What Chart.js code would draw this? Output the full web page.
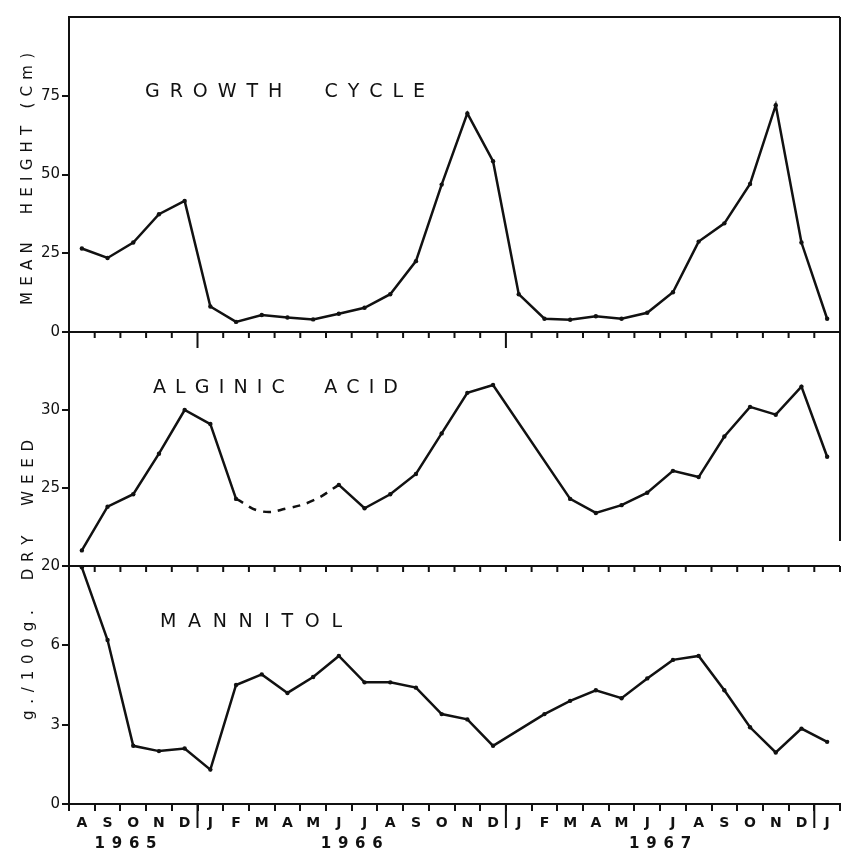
<!DOCTYPE html>
<html>
<head>
<meta charset="utf-8">
<script src="https://cdn.jsdelivr.net/npm/chart.js@4/dist/chart.umd.min.js"></script>
<style>
  html, body { margin: 0; padding: 0; background: #fff; }
  #chart { display: block; }
</style>
</head>
<body>
<canvas id="chart" width="844" height="852"></canvas>
<script>
// Aug 1965 .. Jan 1968, one entry per monthly sample
const months = ['A', 'S', 'O', 'N', 'D',
    'J', 'F', 'M', 'A', 'M', 'J', 'J', 'A', 'S', 'O', 'N', 'D',
    'J', 'F', 'M', 'A', 'M', 'J', 'J', 'A', 'S', 'O', 'N', 'D',
    'J'];
const years = ['1965', '1966', '1967'];
const yearMid = [1.7, 10.5, 22.5];

// mean height (cm)
const growth = [26.5, 23.5, 28.4, 37.4, 41.6,
    8.1, 3.2, 5.4, 4.6, 4.0, 5.8, 7.7, 12.0, 22.5, 46.8, 69.4, 54.2,
    12.0, 4.2, 3.9, 5.0, 4.2, 6.1, 12.6, 28.7, 34.5, 47.0, 72.0, 28.4,
    4.2];

// g./100g. dry weed
const alginic = [21.0, 23.8, 24.6, 27.2, 30.0,
    29.1, 24.3, null, null, null, 25.2, 23.7, 24.6, 25.9, 28.5, 31.1, 31.6,
    null, null, 24.3, 23.4, 23.9, 24.7, 26.1, 25.7, 28.3, 30.2, 29.7, 31.5,
    27.0];
// dashed bridge drawn across the missing spring 1966 samples
const alginicGap = [null, null, null, null, null,
    null, 24.3, 23.5, 23.7, 24.2, 25.2, null, null, null, null, null, null,
    null, null, null, null, null, null, null, null, null, null, null, null,
    null];

const mannitol = [8.95, 6.2, 2.2, 2.0, 2.1,
    1.3, 4.5, 4.9, 4.2, 4.8, 5.6, 4.6, 4.6, 4.4, 3.4, 3.2, 2.2,
    null, 3.4, 3.9, 4.3, 4.0, 4.75, 5.45, 5.6, 4.3, 2.9, 1.95, 2.85,
    2.35];

const growthTicks = [0, 25, 50, 75];
const alginicTicks = [20, 25, 30];
const mannitolTicks = [0, 3, 6];

const ink = '#111';
const face = "'DejaVu Sans', sans-serif";

// draw a string letter by letter so it fills a given span
function spaced(ctx, text, x0, y, span) {
    const chars = [...text];
    const widths = chars.map(c => ctx.measureText(c).width);
    const total = widths.reduce((s, w) => s + w, 0);
    const gap = (span - total) / (chars.length - 1);
    let x = x0;
    chars.forEach((c, i) => {
        ctx.fillText(c, x, y);
        x += widths[i] + gap;
    });
}

const panelDecor = {
    id: 'panelDecor',
    afterDraw(chart) {
        const { ctx, chartArea: a, scales } = chart;
        const x = scales.x, yG = scales.yG, yA = scales.yA;
        ctx.save();
        ctx.strokeStyle = ink;
        ctx.fillStyle = ink;
        ctx.lineWidth = 2;

        // frame: top edge, panel dividers, right side of the upper two panels
        ctx.beginPath();
        ctx.moveTo(a.left, a.top); ctx.lineTo(a.right, a.top);
        ctx.moveTo(a.left, yG.bottom); ctx.lineTo(a.right, yG.bottom);
        ctx.moveTo(a.left, yA.bottom); ctx.lineTo(a.right, yA.bottom);
        ctx.moveTo(a.right, a.top); ctx.lineTo(a.right, yA.bottom - 25);
        ctx.stroke();

        // month ticks hanging below each divider, longer marks at year changes
        const edges = [];
        for (let i = 0; i <= months.length; i++) edges.push(x.getPixelForValue(i - 0.5));
        ctx.beginPath();
        [yG.bottom, yA.bottom].forEach(yy => {
            edges.forEach(ex => { ctx.moveTo(ex, yy); ctx.lineTo(ex, yy + 6); });
        });
        months.forEach((m, i) => {
            if (i > 0 && m === 'J' && months[i - 1] === 'D') {
                ctx.moveTo(edges[i], a.bottom); ctx.lineTo(edges[i], a.bottom + 24);
                if (i < months.length - 1) {
                    ctx.moveTo(edges[i], yG.bottom); ctx.lineTo(edges[i], yG.bottom + 16);
                }
            }
        });
        ctx.stroke();

        // panel titles
        ctx.textAlign = 'left';
        ctx.textBaseline = 'alphabetic';
        ctx.font = '19px ' + face;
        spaced(ctx, 'GROWTH  CYCLE', a.left + 76, a.top + 80, 280);
        spaced(ctx, 'ALGINIC  ACID', a.left + 84, yG.bottom + 61, 245);
        spaced(ctx, 'MANNITOL', a.left + 91, yA.bottom + 61, 182);

        // rotated axis titles
        ctx.font = '15px ' + face;
        ctx.save();
        ctx.translate(32, 305);
        ctx.rotate(-Math.PI / 2);
        spaced(ctx, 'MEAN  HEIGHT (Cm)', 0, 0, 252);
        ctx.restore();
        ctx.save();
        ctx.translate(33, 720);
        ctx.rotate(-Math.PI / 2);
        spaced(ctx, 'g./100g.  DRY  WEED', 0, 0, 280);
        ctx.restore();

        // year labels under the month letters
        ctx.font = 'bold 15px ' + face;
        years.forEach((yr, i) => {
            const cx = x.getPixelForValue(yearMid[i]);
            spaced(ctx, yr, cx - 31, a.bottom + 44, 62);
        });
        ctx.restore();
    }
};

function yAxis(min, max, tickList, weight, order) {
    return {
        type: 'linear',
        position: 'left',
        stack: 'panels',
        stackWeight: weight,
        weight: order,
        min: min,
        max: max,
        afterBuildTicks: axis => { axis.ticks = tickList.map(v => ({ value: v })); },
        afterFit: axis => { axis.width = 69; },
        border: { display: true, color: ink, width: 2 },
        grid: { drawOnChartArea: false, drawTicks: true, tickLength: 7, color: ink, lineWidth: 2 },
        ticks: { color: ink, padding: 2, font: { family: face, size: 15 } }
    };
}

const lineStyle = {
    borderColor: ink,
    backgroundColor: ink,
    borderWidth: 2.5,
    pointRadius: 2.2,
    pointBorderWidth: 0,
    pointBackgroundColor: ink,
    tension: 0,
    fill: false
};

new Chart(document.getElementById('chart').getContext('2d'), {
    type: 'line',
    data: {
        labels: months,
        datasets: [
            Object.assign({ label: 'Growth cycle', data: growth, yAxisID: 'yG' }, lineStyle),
            Object.assign({
                label: 'Alginic acid', data: alginic, yAxisID: 'yA', spanGaps: true,
                segment: {
                    // the spring 1966 gap is drawn by the dashed bridge instead
                    borderColor: ctx => (alginic[ctx.p1DataIndex - 1] == null &&
                        alginicGap[ctx.p1DataIndex - 1] != null) ? 'rgba(0,0,0,0)' : undefined
                }
            }, lineStyle),
            Object.assign({}, lineStyle, {
                label: 'Alginic acid (no samples)', data: alginicGap, yAxisID: 'yA',
                borderDash: [8, 7], pointRadius: 0, tension: 0.45
            }),
            Object.assign({ label: 'Mannitol', data: mannitol, yAxisID: 'yM', spanGaps: true }, lineStyle)
        ]
    },
    options: {
        responsive: false,
        animation: false,
        layout: { padding: { top: 17, right: 1, left: 0, bottom: 0 } },
        plugins: { legend: { display: false }, tooltip: { enabled: false } },
        scales: {
            x: {
                type: 'category',
                offset: true,
                afterFit: axis => { axis.height = 48; },
                border: { display: true, color: ink, width: 2 },
                grid: { offset: true, drawOnChartArea: false, drawTicks: true, tickLength: 7, color: ink, lineWidth: 2 },
                ticks: { color: ink, padding: 4, autoSkip: false, maxRotation: 0,
                    font: { family: face, size: 14, weight: 'bold' } }
            },
            yM: yAxis(0, 9, mannitolTicks, 238, 1),
            yA: yAxis(20, 35, alginicTicks, 234, 2),
            yG: yAxis(0, 100, growthTicks, 315, 3)
        }
    },
    plugins: [panelDecor]
});
</script>
</body>
</html>
